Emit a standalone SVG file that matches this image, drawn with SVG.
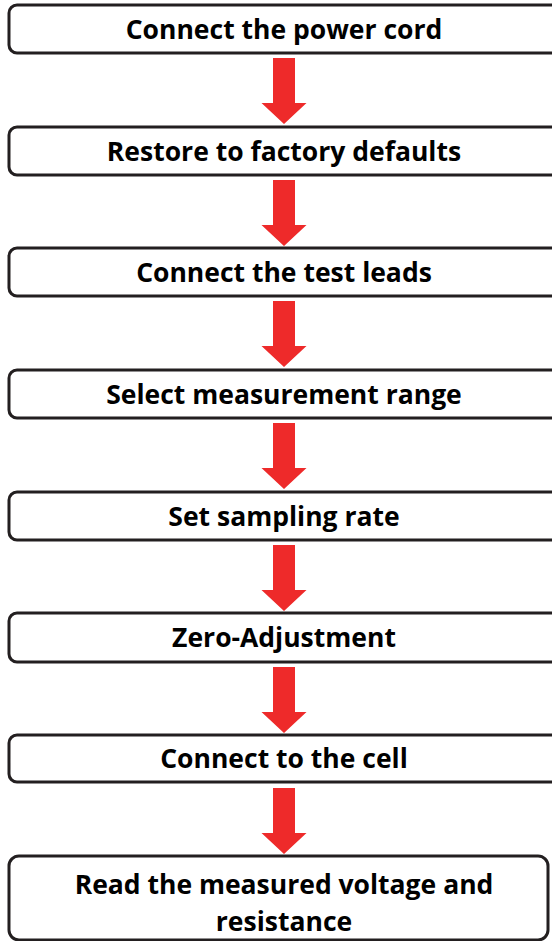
<svg xmlns="http://www.w3.org/2000/svg" width="552" height="941" viewBox="0 0 552 941">
<defs>
<style>
.box{fill:#fff;stroke:#231f20;stroke-width:3}
.t{font-family:"Open Sans","Liberation Sans",sans-serif;font-weight:bold;font-size:26.5px;fill:#000;text-anchor:middle}
.arr{fill:#ee2a2a}
</style>
<path id="arrow" class="arr" d="M-11,0 H11 V45 H22.5 L0,66 L-22.5,45 H-11 Z"/>
</defs>
<g id="connectors">
<use href="#arrow" x="284" y="58"/>
<use href="#arrow" x="284" y="180"/>
<use href="#arrow" x="284" y="301"/>
<use href="#arrow" x="284" y="423"/>
<use href="#arrow" x="284" y="545"/>
<use href="#arrow" x="284" y="667"/>
<use href="#arrow" x="284" y="788"/>
</g>
<g id="n1"><rect class="box" x="9" y="5" width="560" height="48" rx="8"/><text class="t" x="284" y="39">Connect the power cord</text></g>
<g id="n2"><rect class="box" x="9" y="127" width="560" height="48" rx="8"/><text class="t" x="284" y="161">Restore to factory defaults</text></g>
<g id="n3"><rect class="box" x="9" y="248" width="560" height="48" rx="8"/><text class="t" x="284" y="282">Connect the test leads</text></g>
<g id="n4"><rect class="box" x="9" y="370" width="560" height="48" rx="8"/><text class="t" x="284" y="404">Select measurement range</text></g>
<g id="n5"><rect class="box" x="9" y="492" width="560" height="48" rx="8"/><text class="t" x="284" y="526">Set sampling rate</text></g>
<g id="n6"><rect class="box" x="9" y="613" width="560" height="49" rx="8"/><text class="t" x="284" y="647">Zero-Adjustment</text></g>
<g id="n7"><rect class="box" x="9" y="735" width="560" height="47" rx="8"/><text class="t" x="284" y="768">Connect to the cell</text></g>
<g id="n8"><rect class="box" x="9" y="856" width="539" height="84" rx="10"/><text class="t" x="284" y="894">Read the measured voltage and</text><text class="t" x="284" y="931">resistance</text></g>
</svg>
